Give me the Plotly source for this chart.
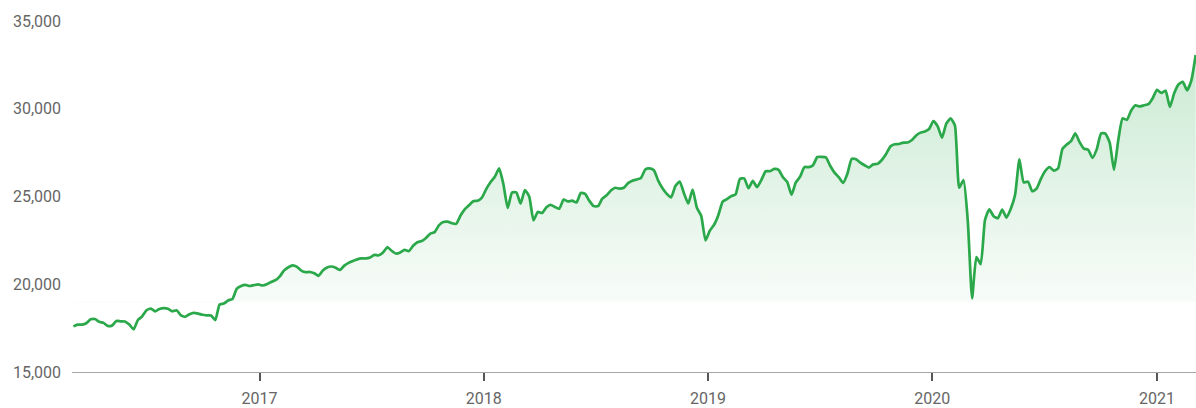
import pandas as pd
import plotly.graph_objects as go

# Weekly index closes, first week ending 2016-03-04
start_date = "2016-03-04"
weekly_close = [
    17600, 17700, 17700, 17780, 18000, 18020, 17860, 17800, 17620, 17650,
    17910, 17890, 17880, 17700, 17430, 17960, 18170, 18520, 18610, 18460,
    18590, 18640, 18600, 18460, 18520, 18220, 18150, 18290, 18370, 18330,
    18260, 18230, 18220, 17960, 18850, 18900, 19080, 19160, 19750, 19900,
    19960, 19900, 19950, 19990, 19930, 20000, 20130, 20230, 20450, 20790,
    20970, 21070, 20990, 20780, 20690, 20700, 20630, 20480, 20780, 20960,
    21010, 20940, 20810, 21060, 21220, 21330, 21420, 21470, 21470, 21530,
    21670, 21650, 21810, 22110, 21910, 21750, 21810, 21960, 21890, 22190,
    22390, 22460, 22640, 22880, 22970, 23350, 23540, 23570, 23480, 23440,
    23900, 24260, 24500, 24730, 24760, 24940, 25420, 25810, 26120, 26600,
    25700, 24350, 25220, 25230, 24600, 25360, 25000, 23640, 24120, 24060,
    24390, 24520, 24400, 24300, 24830, 24720, 24760, 24660, 25200, 25150,
    24750, 24450, 24450, 24880, 25070, 25340, 25500, 25450, 25500, 25760,
    25900, 25970, 26060, 26540, 26600, 26500, 25900, 25470, 25150, 24950,
    25600, 25850, 25180, 24600, 25400, 24360, 23900, 22500, 23050, 23390,
    23950, 24710, 24850, 25020, 25120, 26000, 26030, 25470, 25890, 25530,
    25950, 26440, 26440, 26570, 26520, 26100, 25830, 25100, 25800, 26130,
    26680, 26670, 26780, 27250, 27260, 27230, 26750, 26360, 26100, 25780,
    26300, 27150, 27120, 26930, 26780, 26650, 26830, 26860, 27080, 27420,
    27850, 27980, 27990, 28070, 28080, 28220, 28480, 28640, 28710, 28850,
    29300, 29000, 28350, 29150, 29450, 29050, 25500, 25930, 23600, 19200,
    21550, 21150, 23660, 24270, 23880, 23760, 24250, 23800, 24300, 25100,
    27120, 25800, 25850, 25300, 25450, 26000, 26450, 26680, 26470, 26600,
    27700, 27960, 28150, 28600, 28100, 27730, 27660, 27200, 27700, 28600,
    28580, 28070, 26510, 28220, 29450, 29370, 29900, 30200, 30130, 30200,
    30260, 30600, 31080, 30900, 31020, 30100, 30880, 31380, 31530, 31050,
    31620, 33060,
]

fill_floor = 19000
year_ticks = ["2017", "2018", "2019", "2020", "2021"]
y_ticks = [15000, 20000, 25000, 30000, 35000]

dates = pd.date_range(start_date, periods=len(weekly_close), freq="7D")

line_green = "#2aa84a"
grad_lo, grad_hi = 18900, 33500

fig = go.Figure()

# invisible floor the area fill closes against
fig.add_trace(go.Scatter(
    x=dates, y=[fill_floor] * len(dates),
    mode="lines", line=dict(width=0, color="rgba(0,0,0,0)"),
    hoverinfo="skip", showlegend=False,
))

fig.add_trace(go.Scatter(
    x=dates, y=weekly_close,
    mode="lines",
    line=dict(color=line_green, width=2.7, shape="spline", smoothing=0.5),
    fill="tonexty",
    fillgradient=dict(
        type="vertical",
        start=grad_lo,
        stop=grad_hi,
        colorscale=[
            [0, "rgba(42,168,74,0)"],
            [(fill_floor + 20 - grad_lo) / (grad_hi - grad_lo), "rgba(42,168,74,0.035)"],
            [1, "rgba(42,168,74,0.25)"],
        ],
    ),
    showlegend=False,
))

fig.update_layout(
    width=1196, height=408,
    margin=dict(l=72, r=0, t=21, b=36),
    paper_bgcolor="white",
    plot_bgcolor="white",
    font=dict(family="Roboto, sans-serif", size=16, color="#666666"),
    showlegend=False,
)

fig.update_xaxes(
    range=["2016-03-01 17:00", "2021-03-05 12:00"],
    tickvals=[f"{y}-01-01" for y in year_ticks],
    ticktext=year_ticks,
    showgrid=False, zeroline=False,
    showline=True, linecolor="#a6a6a6", linewidth=1,
    ticks="outside", ticklen=8, tickwidth=2, tickcolor="#555555",
    ticklabelstandoff=4,
    tickfont=dict(size=16, color="#666666"),
)

fig.update_yaxes(
    range=[15000, 35000],
    tickvals=y_ticks,
    tickformat=",d",
    showgrid=False, zeroline=False, showline=False,
    ticks="", ticklabelstandoff=10,
    tickfont=dict(size=16, color="#666666"),
)

fig.write_html("out.html")
